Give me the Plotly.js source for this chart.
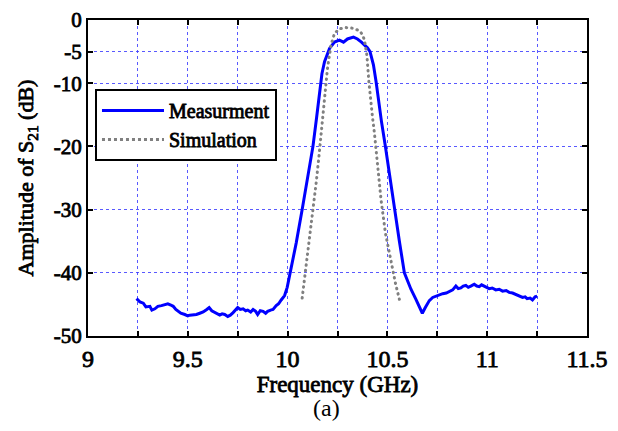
<!DOCTYPE html>
<html>
<head>
<meta charset="utf-8">
<script src="https://cdn.plot.ly/plotly-3.0.1.min.js"></script>
<style>html,body{margin:0;padding:0;background:#fff}#chart{width:618px;height:431px}</style>
</head>
<body>
<div id="chart"></div>
<script>
const measFreq = [9.243,9.26,9.277,9.29,9.31,9.32,9.335,9.35,9.368,9.385,9.40,9.415,9.427,9.44,9.45,9.465,9.485,9.50,9.51,9.525,9.543,9.56,9.577,9.595,9.607,9.62,9.635,9.65,9.66,9.672,9.685,9.70,9.713,9.727,9.74,9.75,9.763,9.777,9.79,9.80,9.815,9.827,9.84,9.85,9.863,9.877,9.89,9.90,9.915,9.927,9.943,9.955,9.968,9.985,9.998,10.013,10.043,10.073,10.10,10.127,10.145,10.16,10.172,10.185,10.20,10.21,10.235,10.26,10.28,10.30,10.33,10.35,10.37,10.385,10.40,10.413,10.43,10.443,10.455,10.47,10.49,10.51,10.535,10.56,10.585,10.607,10.618,10.643,10.662,10.675,10.69,10.71,10.727,10.743,10.76,10.777,10.795,10.81,10.827,10.843,10.855,10.868,10.88,10.893,10.905,10.918,10.935,10.948,10.96,10.972,10.985,11.0,11.01,11.025,11.043,11.06,11.077,11.095,11.11,11.127,11.143,11.16,11.177,11.19,11.20,11.215,11.227,11.24,11.25];
const measDb = [-44.1,-44.6,-44.8,-45.4,-45.3,-45.9,-45.7,-45.3,-45.2,-45.1,-44.9,-45.1,-45.3,-45.8,-46.1,-46.4,-46.6,-46.8,-46.7,-46.7,-46.6,-46.4,-46.2,-45.8,-45.5,-46.0,-46.3,-46.6,-46.7,-46.5,-46.6,-46.9,-46.7,-46.3,-45.9,-45.5,-45.8,-45.7,-46.0,-45.9,-46.2,-45.8,-46.1,-46.6,-46.0,-46.1,-46.4,-46.1,-45.9,-45.8,-45.2,-44.9,-44.3,-43.6,-42.3,-40.0,-35.3,-30.0,-24.7,-20.0,-15.5,-11.0,-8.5,-6.6,-5.2,-4.5,-3.5,-3.2,-3.5,-3.0,-2.7,-3.0,-3.5,-3.9,-4.4,-5.0,-7.1,-9.7,-12.6,-16.0,-20.0,-24.5,-30.0,-35.0,-40.0,-41.8,-42.6,-44.2,-45.5,-46.4,-45.5,-44.4,-43.9,-43.7,-43.5,-43.3,-43.2,-42.9,-42.7,-42.1,-42.5,-42.4,-42.1,-42.0,-42.3,-42.1,-41.8,-42.1,-42.2,-41.9,-42.1,-42.3,-42.5,-42.4,-42.7,-42.6,-42.9,-42.8,-43.1,-43.2,-43.4,-43.7,-43.9,-43.8,-44.1,-44.0,-44.3,-43.8,-43.7];
const simFreq = [10.073,10.083,10.093,10.11,10.127,10.143,10.157,10.168,10.18,10.188,10.20,10.21,10.218,10.235,10.26,10.293,10.327,10.36,10.375,10.385,10.397,10.407,10.415,10.425,10.435,10.452,10.468,10.49,10.515,10.54,10.56];
const simDb = [-44.0,-41.5,-39.0,-34.7,-30.0,-25.8,-21.6,-17.9,-14.2,-11.8,-7.6,-5.5,-3.9,-2.1,-1.4,-1.2,-1.3,-1.7,-2.3,-3.2,-5.5,-9.7,-12.8,-15.3,-17.9,-23.2,-28.4,-33.7,-37.9,-41.6,-44.2];
const xTickVals = [9,9.25,9.5,9.75,10,10.25,10.5,10.75,11,11.25,11.5];
const xTickText = ['9',' ','9.5',' ','10',' ','10.5',' ','11',' ','11.5'];
const yTickVals = [0,-5,-10,-20,-30,-40,-50];
const yTickText = ['0','-5','-10','-20','-30','-40','-50'];

const F = 'Liberation Serif';
const traces = [
  {x: measFreq, y: measDb, mode: 'lines', name: 'Measurment', line: {color: '#0000ff', width: 3}},
  {x: simFreq, y: simDb, mode: 'lines', name: 'Simulation', line: {color: '#808080', width: 3, dash: 'dot'}}
];
const layout = {
  width: 618, height: 431, margin: {l: 88, r: 31, t: 20, b: 95},
  legend: {x: 0.014, y: 0.782, xanchor: 'left', yanchor: 'top', bordercolor: '#000', borderwidth: 2,
    font: {family: F, size: 20, color: '#000'}},
  xaxis: {range: [9, 11.5], tickmode: 'array', tickvals: xTickVals, ticktext: xTickText,
    tickfont: {family: F, size: 24, color: '#000'},
    showline: true, linecolor: '#000', linewidth: 2, mirror: 'ticks',
    ticks: 'inside', ticklen: 5, tickwidth: 2, tickcolor: '#000',
    showgrid: true, gridcolor: 'rgba(60,60,255,0.85)', griddash: 'dot', gridwidth: 1, zeroline: false,
    title: {text: 'Frequency (GHz)', font: {family: F, size: 23, color: '#000'}, standoff: 0}},
  yaxis: {range: [-50, 0], tickmode: 'array', tickvals: yTickVals, ticktext: yTickText,
    tickfont: {family: F, size: 21, color: '#000'},
    showline: true, linecolor: '#000', linewidth: 2, mirror: 'ticks',
    ticks: 'inside', ticklen: 5, tickwidth: 2, tickcolor: '#000',
    showgrid: true, gridcolor: 'rgba(60,60,255,0.85)', griddash: 'dot', gridwidth: 1, zeroline: false,
    title: {text: 'Amplitude of S<sub>21</sub> (dB)', font: {family: F, size: 22, color: '#000'}}},
  annotations: [{text: '(a)', xref: 'paper', yref: 'paper', x: 0.478, y: -0.228, xanchor: 'center', yanchor: 'middle',
    showarrow: false, font: {family: F, size: 24, color: '#000'}}]
};
Plotly.newPlot('chart', traces, layout, {staticPlot: true}).then(function(gd){
  try {
    gd.querySelectorAll('.xtick text, .ytick text, .xtitle, .ytitle, .legendtext').forEach(function(t){
      t.style.stroke = '#000';
      t.style.strokeWidth = '0.8px';
    });
  } catch (e) {}
  try {
    const p = gd.querySelectorAll('.scatterlayer .trace path.js-line');
    if (p[1]) { p[1].style.strokeDasharray = '0.5px,5px'; p[1].style.strokeLinecap = 'round'; }
  } catch (e) {}
  try {
    const extra = 32;
    gd.querySelectorAll('.legend .traces').forEach(function(t){
      t.querySelectorAll('.legendlines path').forEach(function(pp){ pp.setAttribute('d', 'M5,0h' + (30 + extra)); });
      const txt = t.querySelector('.legendtext');
      if (txt) {
        txt.setAttribute('x', +txt.getAttribute('x') + extra);
        txt.querySelectorAll('tspan[x]').forEach(function(ts){ ts.setAttribute('x', +ts.getAttribute('x') + extra); });
      }
    });
    const bg = gd.querySelector('.legend .bg');
    if (bg) bg.setAttribute('width', +bg.getAttribute('width') + extra);
    gd.querySelectorAll('clipPath').forEach(function(cp){
      if (/legend/.test(cp.id)) cp.querySelectorAll('rect').forEach(function(r){ r.setAttribute('width', +r.getAttribute('width') + extra); });
    });
  } catch (e) {}
});
</script>
</body>
</html>
